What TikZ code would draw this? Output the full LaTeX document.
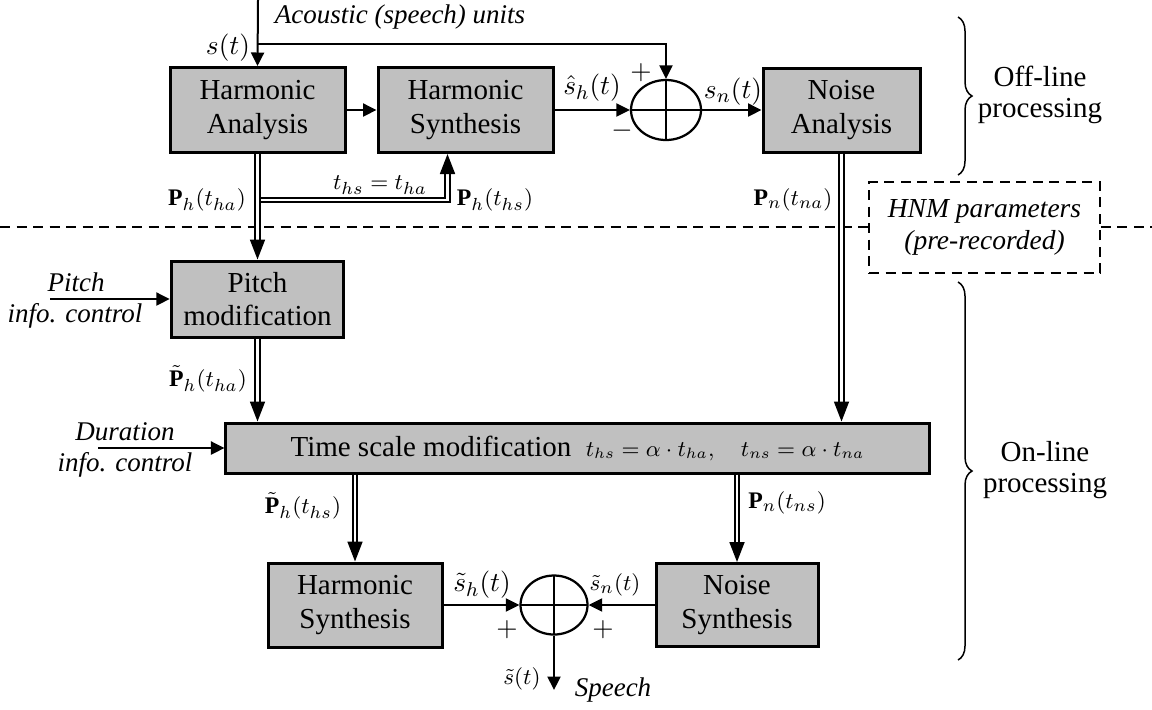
\documentclass[tikz,border=0pt]{standalone}
\usepackage{fontspec}
\setmainfont{Liberation Serif}
\usetikzlibrary{shapes.geometric,arrows.meta,positioning,calc,decorations.pathreplacing}
\definecolor{blockgray}{RGB}{192,192,192}

\tikzset{
  block/.style={draw, line width=1.2pt, fill=blockgray, align=center, inner sep=0pt,
    font=\fontsize{11.6}{13.4}\selectfont},
  sumnode/.style={ellipse, draw, line width=0.9pt, inner sep=0pt,
    minimum width=28pt, minimum height=24pt,
    path picture={\draw[line width=0.9pt]
      (path picture bounding box.north) -- (path picture bounding box.south)
      (path picture bounding box.west) -- (path picture bounding box.east);}},
  sig/.style={line width=0.8pt, -{Triangle[length=5.4pt,width=5.2pt]}},
  par/.style={double, double distance=1.1pt, line width=0.7pt,
    -{Triangle[length=8pt,width=6pt]}},
  dashbox/.style={draw, dashed, dash pattern=on 4pt off 2.6pt, line width=0.7pt,
    minimum width=92.4pt, minimum height=36.4pt, align=center,
    font=\fontsize{11}{13}\selectfont\itshape},
  brace/.style={decorate, decoration={brace, amplitude=5.6pt}, line width=0.6pt},
  side/.style={align=center, font=\fontsize{11.6}{12.6}\selectfont},
  lab/.style={inner sep=0pt, font=\fontsize{9.5}{11}\selectfont},
  biglab/.style={inner sep=0pt, font=\fontsize{11}{13}\selectfont},
  note/.style={align=center, inner sep=0pt, font=\fontsize{10.8}{12.5}\selectfont\itshape}
}

\begin{document}
\begin{tikzpicture}[x=0.4pt,y=-0.4pt]
\useasboundingbox (0,0) rectangle (1152,709);

% blocks
\node[block, minimum width=70pt, minimum height=34pt] (ha) at (257.5,110) {Harmonic\\Analysis};
\node[block, minimum width=70pt, minimum height=34pt] (hs1) at (465.5,110) {Harmonic\\Synthesis};
\node[sumnode] (sum1) at (666,110) {};
\node[block, minimum width=62.8pt, minimum height=33.6pt] (na) at (841.5,110) {Noise\\Analysis};
\node[block, minimum width=69pt, minimum height=30.4pt] (pm) at (257.5,299) {Pitch\\modification};
\node[block, minimum width=281.2pt, minimum height=20pt] (ts) at (577.5,448)
  {Time scale modification\ \ {\small$t_{hs}=\alpha\cdot t_{ha},\quad t_{ns}=\alpha\cdot t_{na}$}};
\node[block, minimum width=69.6pt, minimum height=33.6pt] (hs2) at (355,605) {Harmonic\\Synthesis};
\node[sumnode, minimum width=26.8pt, minimum height=23.6pt] (sum2) at (554,605) {};
\node[block, minimum width=64.8pt, minimum height=33.2pt] (ns) at (737,605) {Noise\\Synthesis};

% off-line / on-line split
\node[dashbox] (hnm) at (984.5,227.5) {HNM parameters\\(pre-recorded)};
\coordinate (dl) at (0,227);
\coordinate (dr) at (1152,227);
\draw[dashed, dash pattern=on 4pt off 2.6pt, line width=0.7pt] (dl) -- (hnm.west |- dl);
\draw[dashed, dash pattern=on 4pt off 2.6pt, line width=0.7pt] (hnm.east |- dr) -- (dr);

\draw[brace] (958,17) -- (958,175);
\node[side] (offl) at (1040,95) {Off-line\\processing};
\draw[brace] (958,282) -- (958,660);
\node[side] (onl) at (1045,470) {On-line\\processing};

% speech input
\coordinate (src) at (258,0);
\coordinate (tap) at (258,44);
\node[note] (acu) at (400,17) {Acoustic (speech) units};
\node[biglab] (st) at (228,48) {$s(t)$};
\draw[sig] (src) -- (ha.north);
\draw[sig] (tap) -| (sum1.north);
\node[biglab] (plus1) at (641,73) {$+$};
\node[biglab] (minus1) at (622,131) {$-$};

\draw[sig] (ha.east) -- (hs1.west);
\draw[sig] (hs1.east) -- (sum1.west);
\node[biglab] (shat) at (592,88) {$\hat{s}_h(t)$};
\draw[sig] (sum1.east) -- (na.west);
\node[biglab] (sn) at (733,92) {$s_n(t)$};

% harmonic parameters
\coordinate (tap2) at (258,200);
\draw[par] (tap2) -| ([xshift=-7.2pt]hs1.south);
\draw[par] (ha.south) -- (pm.north);
\node[lab] (pha) at (207,200) {$\mathbf{P}_h(t_{ha})$};
\node[lab] (eqt) at (380,185) {$t_{hs}=t_{ha}$};
\node[lab] (phs) at (495,200) {$\mathbf{P}_h(t_{hs})$};

% noise parameters
\draw[par] (na.south) -- (na.south |- ts.north);
\node[lab] (pna) at (793,200) {$\mathbf{P}_n(t_{na})$};

% pitch and duration controls
\coordinate (pin) at (50,299);
\draw[sig] (pin) -- (pm.west);
\node[note] (pitch1) at (76,282) {Pitch};
\node[note] (pitch2) at (75,316) {info. control};
\coordinate (din) at (98,448);
\draw[sig] (din) -- (ts.west);
\node[note] (dur1) at (125,432) {Duration};
\node[note] (dur2) at (125,465) {info. control};

\draw[par] (pm.south) -- (pm.south |- ts.north);
\node[lab] (ptha) at (208,379) {$\tilde{\mathbf{P}}_h(t_{ha})$};

% synthesis
\draw[par] (hs2.north |- ts.south) -- (hs2.north);
\node[lab] (pths) at (303,506) {$\tilde{\mathbf{P}}_h(t_{hs})$};
\draw[par] (ns.north |- ts.south) -- (ns.north);
\node[lab] (pns) at (787,503) {$\mathbf{P}_n(t_{ns})$};

\draw[sig] (hs2.east) -- (sum2.west);
\node[biglab] (sth) at (482,585) {$\tilde{s}_h(t)$};
\node[biglab] (plus2) at (507,630) {$+$};
\draw[sig] (ns.west) -- (sum2.east);
\node[lab] (stn) at (615,585) {$\tilde{s}_n(t)$};
\node[biglab] (plus3) at (603,630) {$+$};

\coordinate (out) at (554,690);
\draw[sig] (sum2.south) -- (out);
\node[lab] (stil) at (522,679) {$\tilde{s}(t)$};
\node[note] (speech) at (613,690) {Speech};
\end{tikzpicture}
\end{document}
